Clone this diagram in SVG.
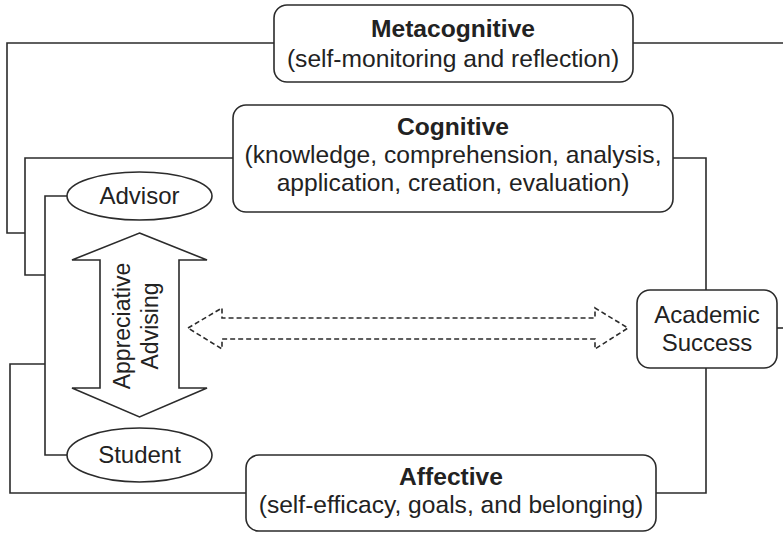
<svg xmlns="http://www.w3.org/2000/svg" width="783" height="533" viewBox="0 0 783 533">
<style>
.box{fill:#fff;stroke:#2b2b2b;stroke-width:1.6}
.ln{fill:none;stroke:#2b2b2b;stroke-width:1.6}
.dash{fill:none;stroke:#2b2b2b;stroke-width:1.6;stroke-dasharray:5 3}
text{font-family:"Liberation Sans",Arial,sans-serif;font-size:24.6px;fill:#222;text-anchor:middle}
.b{font-weight:bold}
.s{font-size:24px}
.r{font-size:23px}
</style>
<rect width="783" height="533" fill="#fff"/>
<g id="connectors">
<polyline class="ln" points="274,43 7,43 7,233 25,233"/>
<line class="ln" x1="633" y1="43" x2="783" y2="43"/>
<polyline class="ln" points="233,158 25,158 25,275 45,275"/>
<polyline class="ln" points="67,196 45,196 45,455 67,455"/>
<polyline class="ln" points="45,364 10,364 10,493 246,493"/>
<polyline class="ln" points="673,158 706,158 706,290"/>
<polyline class="ln" points="706,368 706,493 656,493"/>
<line class="ln" x1="777" y1="328" x2="783" y2="328"/>
<polygon class="dash" points="188,328 222,308 222,318 595,318 595,308 628,328 595,349 595,339 222,339 222,349"/>
</g>
<g id="metacognitive">
<rect class="box" x="274" y="5" width="359" height="77" rx="13"/>
<text class="b" x="453" y="37">Metacognitive</text>
<text x="453" y="67">(self-monitoring and reflection)</text>
</g>
<g id="cognitive">
<rect class="box" x="233" y="105" width="440" height="107" rx="13"/>
<text class="b" x="453" y="135">Cognitive</text>
<text x="453" y="163">(knowledge, comprehension, analysis,</text>
<text x="453" y="191">application, creation, evaluation)</text>
</g>
<g id="advisor">
<ellipse class="box" cx="139.5" cy="196" rx="72.5" ry="24"/>
<text class="s" x="139.5" y="204">Advisor</text>
</g>
<g id="student">
<ellipse class="box" cx="139.5" cy="455" rx="72.5" ry="27"/>
<text class="s" x="139.5" y="463">Student</text>
</g>
<g id="appreciative-advising">
<polygon class="box" points="139.5,233 207,260 179,260 179,388 207,388 139.5,417 72,388 100,388 100,260 72,260"/>
<text class="r" transform="translate(130,326) rotate(-90)" x="0" y="0">Appreciative</text>
<text class="r" transform="translate(158,326) rotate(-90)" x="0" y="0">Advising</text>
</g>
<g id="academic-success">
<rect class="box" x="637" y="290" width="140" height="78" rx="13"/>
<text class="s" x="707" y="323">Academic</text>
<text class="s" x="707" y="351">Success</text>
</g>
<g id="affective">
<rect class="box" x="246" y="455" width="410" height="76" rx="13"/>
<text class="b" x="451" y="485">Affective</text>
<text x="451" y="513">(self-efficacy, goals, and belonging)</text>
</g>
</svg>
